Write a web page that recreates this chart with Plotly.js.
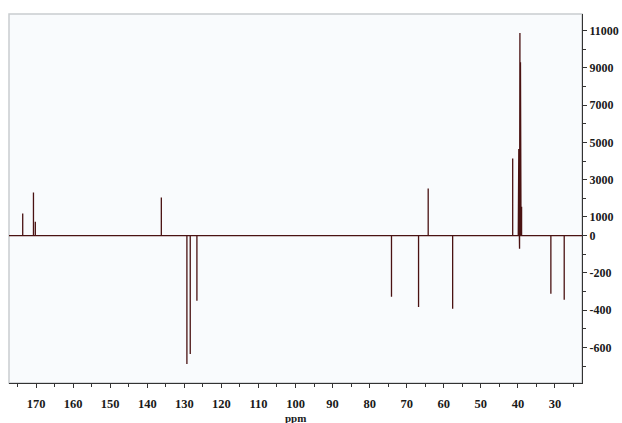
<!DOCTYPE html>
<html>
<head>
<meta charset="utf-8">
<script src="https://cdn.plot.ly/plotly-3.0.1.min.js"></script>
<style>html,body{margin:0;padding:0;background:#fff;}#chart{width:622px;height:423px;}</style>
</head>
<body>
<div id="chart"></div>
<script>
// Peak positions (ppm) and intensities (axis units; negative region labelled /10 on the axis)
const peakPpm    = [173.6, 170.7, 170.2, 136.2, 129.3, 128.4, 126.6, 74.1, 66.8, 64.2, 57.6, 41.4, 39.9, 39.75, 39.6, 39.55, 39.45, 39.3, 39.15, 39.0, 31.1, 27.5];
const peakHeight = [1180, 2310, 750, 2040, -6880, -6340, -3490, -3280, -3820, 2520, -3920, 4140, 1550, 4650, 9300, -700, 10860, 9300, 4650, 1550, -3120, -3440];
const ppmRange = [177.3, 22.7];
const yTickVals  = [11000, 9000, 7000, 5000, 3000, 1000, 0, -2000, -4000, -6000];
const yTickText  = ["11000", "9000", "7000", "5000", "3000", "1000", "0", "-200", "-400", "-600"];
const xTickVals  = [170, 160, 150, 140, 130, 120, 110, 100, 90, 80, 70, 60, 50, 40, 30];
const xTitle = 'ppm';

// build stick spectrum from the peak list
const order = peakPpm.map((p, i) => i).sort((a, b) => peakPpm[b] - peakPpm[a]);
const xs = [ppmRange[0]], ys = [0];
order.forEach(i => { xs.push(peakPpm[i], peakPpm[i], peakPpm[i]); ys.push(0, peakHeight[i], 0); });
xs.push(ppmRange[1]); ys.push(0);

const trace = {
  x: xs, y: ys, type: 'scatter', mode: 'lines',
  line: {color: '#4a1212', width: 1.3},
  hoverinfo: 'skip'
};

const font = {family: '"Liberation Serif", "Times New Roman", serif', size: 12, color: '#1a1a1a'};

const layout = {
  width: 622, height: 423,
  margin: {l: 9, r: 40, t: 14, b: 40},
  paper_bgcolor: '#ffffff',
  plot_bgcolor: '#f9fbfd',
  showlegend: false,
  font: font,
  xaxis: {
    range: ppmRange,
    tickmode: 'array', tickvals: xTickVals,
    ticks: 'outside', ticklen: 4, tickcolor: '#333',
    ticklabelstandoff: 5,
    minor: {dtick: 5, tick0: 0, ticks: 'outside', ticklen: 3, tickcolor: '#333'},
    showline: true, linecolor: '#333', linewidth: 1,
    showgrid: false, zeroline: false,
    tickfont: {family: font.family, size: 12.5, color: '#1a1a1a', weight: 'bold'}
  },
  yaxis: {
    range: [-7900, 11880],
    side: 'right',
    tickmode: 'array', tickvals: yTickVals, ticktext: yTickText,
    ticks: 'outside', ticklen: 4, tickcolor: '#333',
    minor: {dtick: 1000, tick0: 0, ticks: 'outside', ticklen: 3, tickcolor: '#333'},
    showline: true, linecolor: '#333', linewidth: 1,
    showgrid: false, zeroline: false,
    tickfont: {family: font.family, size: 12, color: '#1a1a1a', weight: 'bold'}
  },
  annotations: [{
    text: xTitle, xref: 'paper', yref: 'paper', x: 0.5, y: -0.095,
    xanchor: 'center', yanchor: 'middle', showarrow: false,
    font: {family: font.family, size: 11, color: '#1a1a1a', weight: 'bold'}
  }],
  shapes: [{
    type: 'rect', xref: 'paper', yref: 'paper', x0: 0, x1: 1, y0: 0, y1: 1,
    line: {color: '#c9cdd0', width: 1.5}, layer: 'below'
  }]
};

Plotly.newPlot('chart', [trace], layout, {displayModeBar: false, staticPlot: true});
</script>
</body>
</html>
